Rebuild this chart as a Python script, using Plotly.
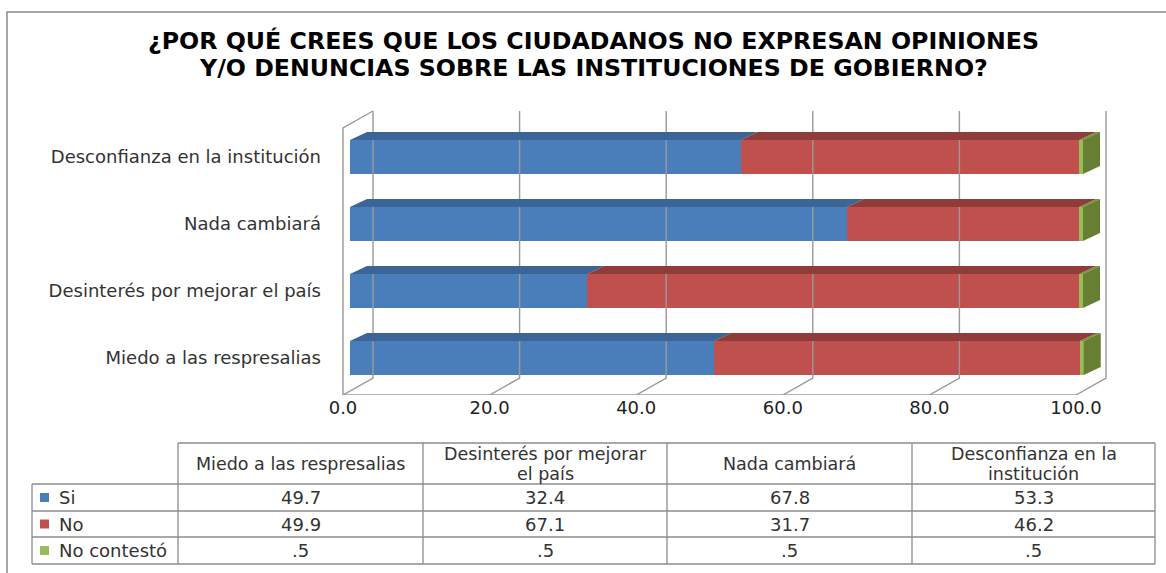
import plotly.graph_objects as go

# ---------------- data ----------------
categories = ["Miedo a las respresalias", "Desinterés por mejorar el país",
              "Nada cambiará", "Desconfianza en la institución"]
header_labels = ["Miedo a las respresalias", "Desinterés por mejorar<br>el país",
                 "Nada cambiará", "Desconfianza en la<br>institución"]
series_names = ["Si", "No", "No contestó"]
si_values = [49.7, 32.4, 67.8, 53.3]
no_values = [49.9, 67.1, 31.7, 46.2]
nc_values = [0.5, 0.5, 0.5, 0.5]
tick_values = [0, 20, 40, 60, 80, 100]
tick_labels = ["0.0", "20.0", "40.0", "60.0", "80.0", "100.0"]
title_lines = ["¿POR QUÉ CREES QUE LOS CIUDADANOS NO EXPRESAN OPINIONES",
               "Y/O DENUNCIAS SOBRE LAS INSTITUCIONES DE GOBIERNO?"]

# ---------------- styles ----------------
front_colors = ["#4a7ebb", "#c0504d", "#9bbb59"]
top_colors = ["#3b6597", "#8f3c3a", "#728f3a"]
side_colors = ["#35598a", "#7f3533", "#667f33"]
grid_color = "#9a9a9a"
text_color = "#333333"
FONT = "DejaVu Sans"
FS = 18
HEAD_FS = 17.5
HEAD_LINE = 20
TITLE_FS = 23.7

W, H = 1166, 573
# pixel geometry of the pseudo-3D plot
X0, XS = 350.0, 7.33      # px of value 0 on bar plane, px per unit
Y0, YS = 358.0, 67.0      # px of first category centre, px per category
DOM_X = (325, 1125)
DOM_Y = (100, 395)
FRONT_DX, BACK_DX = -7.0, 23.0   # floor front/back offset from bar plane (px)
FLOOR_FRONT_Y, FLOOR_BACK_Y, WALL_TOP_Y, LWALL_FRONT_TOP_Y = 395, 378, 111, 128
BAR_W_PX, DEPTH_DX, DEPTH_DY = 34.0, 17.0, 8.0

# table geometry (px)
TCOLS = [32, 178, 423, 667, 912, 1155]
THEAD = (443, 484)
TROWS = [484, 511, 537, 564]


def ux(dpx):
    return dpx / XS


def uy_px(p):
    return (Y0 - p) / YS


def pxx(p):
    return p / W


def pxy(p):
    return 1 - p / H


positions = list(range(len(categories)))
bar_w = BAR_W_PX / YS
ddx, ddy = ux(DEPTH_DX), DEPTH_DY / YS

fig = go.Figure()

# ---- walls / floor / grid (from tick values) ----
gx, gy = [], []
yF, yB, yT = uy_px(FLOOR_FRONT_Y), uy_px(FLOOR_BACK_Y), uy_px(WALL_TOP_Y)
for v in tick_values:
    xf, xb = v + ux(FRONT_DX), v + ux(BACK_DX)
    gx += [xf, xb, xb, None]
    gy += [yF, yB, yT, None]
gx += [tick_values[0] + ux(FRONT_DX), tick_values[-1] + ux(FRONT_DX), None]
gy += [yF, yF, None]
gx += [tick_values[0] + ux(FRONT_DX), tick_values[0] + ux(FRONT_DX), tick_values[0] + ux(BACK_DX), None]
gy += [yF, uy_px(LWALL_FRONT_TOP_Y), yT, None]
fig.add_trace(go.Scatter(x=gx, y=gy, mode="lines", line=dict(color=grid_color, width=1.4),
                         hoverinfo="skip", showlegend=False))

# ---- front faces of the stacked bars ----
all_series = [si_values, no_values, nc_values]
for name, vals, col in zip(series_names, all_series, front_colors):
    fig.add_trace(go.Bar(y=positions, x=vals, orientation="h", name=name,
                         width=bar_w, marker=dict(color=col, line=dict(width=0)),
                         showlegend=False))

# ---- top faces ----
starts = [0.0] * len(categories)
for vals, tc in zip(all_series, top_colors):
    px_, py_ = [], []
    for i, v in enumerate(vals):
        s, e = starts[i], starts[i] + v
        yt = positions[i] + bar_w / 2
        px_ += [s, e, e + ddx, s + ddx, s, None]
        py_ += [yt, yt, yt + ddy, yt + ddy, yt, None]
    fig.add_trace(go.Scatter(x=px_, y=py_, mode="lines", fill="toself", fillcolor=tc,
                             line=dict(width=0, color=tc), hoverinfo="skip", showlegend=False))
    for i, v in enumerate(vals):
        starts[i] += v

# right end (side) face of each stack
sx, sy = [], []
for i in positions:
    e = starts[i]
    yt, yb = positions[i] + bar_w / 2, positions[i] - bar_w / 2
    sx += [e, e, e + ddx, e + ddx, e, None]
    sy += [yb, yt, yt + ddy, yb + ddy, yb, None]
fig.add_trace(go.Scatter(x=sx, y=sy, mode="lines", fill="toself", fillcolor=side_colors[2],
                         line=dict(width=0, color=side_colors[2]), hoverinfo="skip", showlegend=False))

# ---- data table (shapes + annotations built from the data arrays) ----
def fmt(v):
    s = f"{v:.1f}"
    return s[1:] if s.startswith("0.") else s

line_gray = "#8c8c8c"
shapes = []
annotations = []
shapes.append(dict(type="line", xref="paper", yref="paper", x0=pxx(TCOLS[1]), x1=pxx(TCOLS[-1]),
                   y0=pxy(THEAD[0]), y1=pxy(THEAD[0]), line=dict(color=line_gray, width=1.3)))
for ry in TROWS:
    shapes.append(dict(type="line", xref="paper", yref="paper", x0=pxx(TCOLS[0]), x1=pxx(TCOLS[-1]),
                       y0=pxy(ry), y1=pxy(ry), line=dict(color=line_gray, width=1.3)))
shapes.append(dict(type="line", xref="paper", yref="paper", x0=pxx(TCOLS[0]), x1=pxx(TCOLS[0]),
                   y0=pxy(TROWS[0]), y1=pxy(TROWS[-1]), line=dict(color=line_gray, width=1.3)))
for cx in TCOLS[1:]:
    shapes.append(dict(type="line", xref="paper", yref="paper", x0=pxx(cx), x1=pxx(cx),
                       y0=pxy(THEAD[0]), y1=pxy(TROWS[-1]), line=dict(color=line_gray, width=1.3)))

hc = (THEAD[0] + THEAD[1]) / 2
for j, lab in enumerate(header_labels):
    cxm = (TCOLS[j + 1] + TCOLS[j + 2]) / 2
    lines = lab.split("<br>")
    for k, ln in enumerate(lines):
        yy = hc + (k - (len(lines) - 1) / 2) * HEAD_LINE
        annotations.append(dict(text=ln, x=pxx(cxm), y=pxy(yy), xref="paper", yref="paper",
                                xanchor="center", yanchor="middle", showarrow=False,
                                font=dict(family=FONT, size=HEAD_FS, color=text_color)))
row_vals = [si_values, no_values, nc_values]
for r, (name, col, vals) in enumerate(zip(series_names, front_colors, row_vals)):
    rc = (TROWS[r] + TROWS[r + 1]) / 2
    shapes.append(dict(type="rect", xref="paper", yref="paper", x0=pxx(40), x1=pxx(49),
                       y0=pxy(rc + 4.5), y1=pxy(rc - 4.5), fillcolor=col, line=dict(width=0)))
    annotations.append(dict(text=name, x=pxx(57), y=pxy(rc), xref="paper", yref="paper",
                            xanchor="left", yanchor="middle", showarrow=False,
                            font=dict(family=FONT, size=FS, color=text_color)))
    for j, v in enumerate(vals):
        cxm = (TCOLS[j + 1] + TCOLS[j + 2]) / 2
        annotations.append(dict(text=fmt(v), x=pxx(cxm), y=pxy(rc), xref="paper", yref="paper",
                                xanchor="center", yanchor="middle", showarrow=False,
                                font=dict(family=FONT, size=FS, color=text_color)))

for k, (tl, ty) in enumerate(zip(title_lines, [41, 68])):
    annotations.append(dict(text="<b>" + tl + "</b>", x=pxx(593), y=pxy(ty), xref="paper", yref="paper",
                            xanchor="center", yanchor="middle", showarrow=False,
                            font=dict(family=FONT, size=TITLE_FS, color="#000000")))

shapes.append(dict(type="rect", xref="paper", yref="paper", x0=pxx(7), x1=1.05, y0=-0.05,
                   y1=pxy(12), line=dict(color="#8a8a8a", width=1.5), fillcolor="rgba(0,0,0,0)",
                   layer="below"))

fig.update_layout(
    width=W, height=H, margin=dict(l=0, r=0, t=0, b=0),
    paper_bgcolor="white", plot_bgcolor="rgba(0,0,0,0)",
    barmode="stack", bargap=0,
    font=dict(family=FONT, color=text_color),
    xaxis=dict(domain=[pxx(DOM_X[0]), pxx(DOM_X[1])],
               range=[(DOM_X[0] - X0) / XS, (DOM_X[1] - X0) / XS],
               tickvals=[v + ux(FRONT_DX) for v in tick_values], ticktext=tick_labels,
               showgrid=False, zeroline=False, showline=False, ticks="",
               tickfont=dict(family=FONT, size=FS, color="#222222")),
    yaxis=dict(domain=[pxy(DOM_Y[1]), pxy(DOM_Y[0])],
               range=[uy_px(DOM_Y[1]), uy_px(DOM_Y[0])],
               tickvals=positions, ticktext=categories,
               showgrid=False, zeroline=False, showline=False, ticks="",
               ticklabelstandoff=3,
               tickfont=dict(family=FONT, size=FS, color=text_color)),
    annotations=annotations,
    shapes=shapes,
)

fig.write_html("out.html", config={"displayModeBar": False},
               post_script="document.body.style.margin='0';")
